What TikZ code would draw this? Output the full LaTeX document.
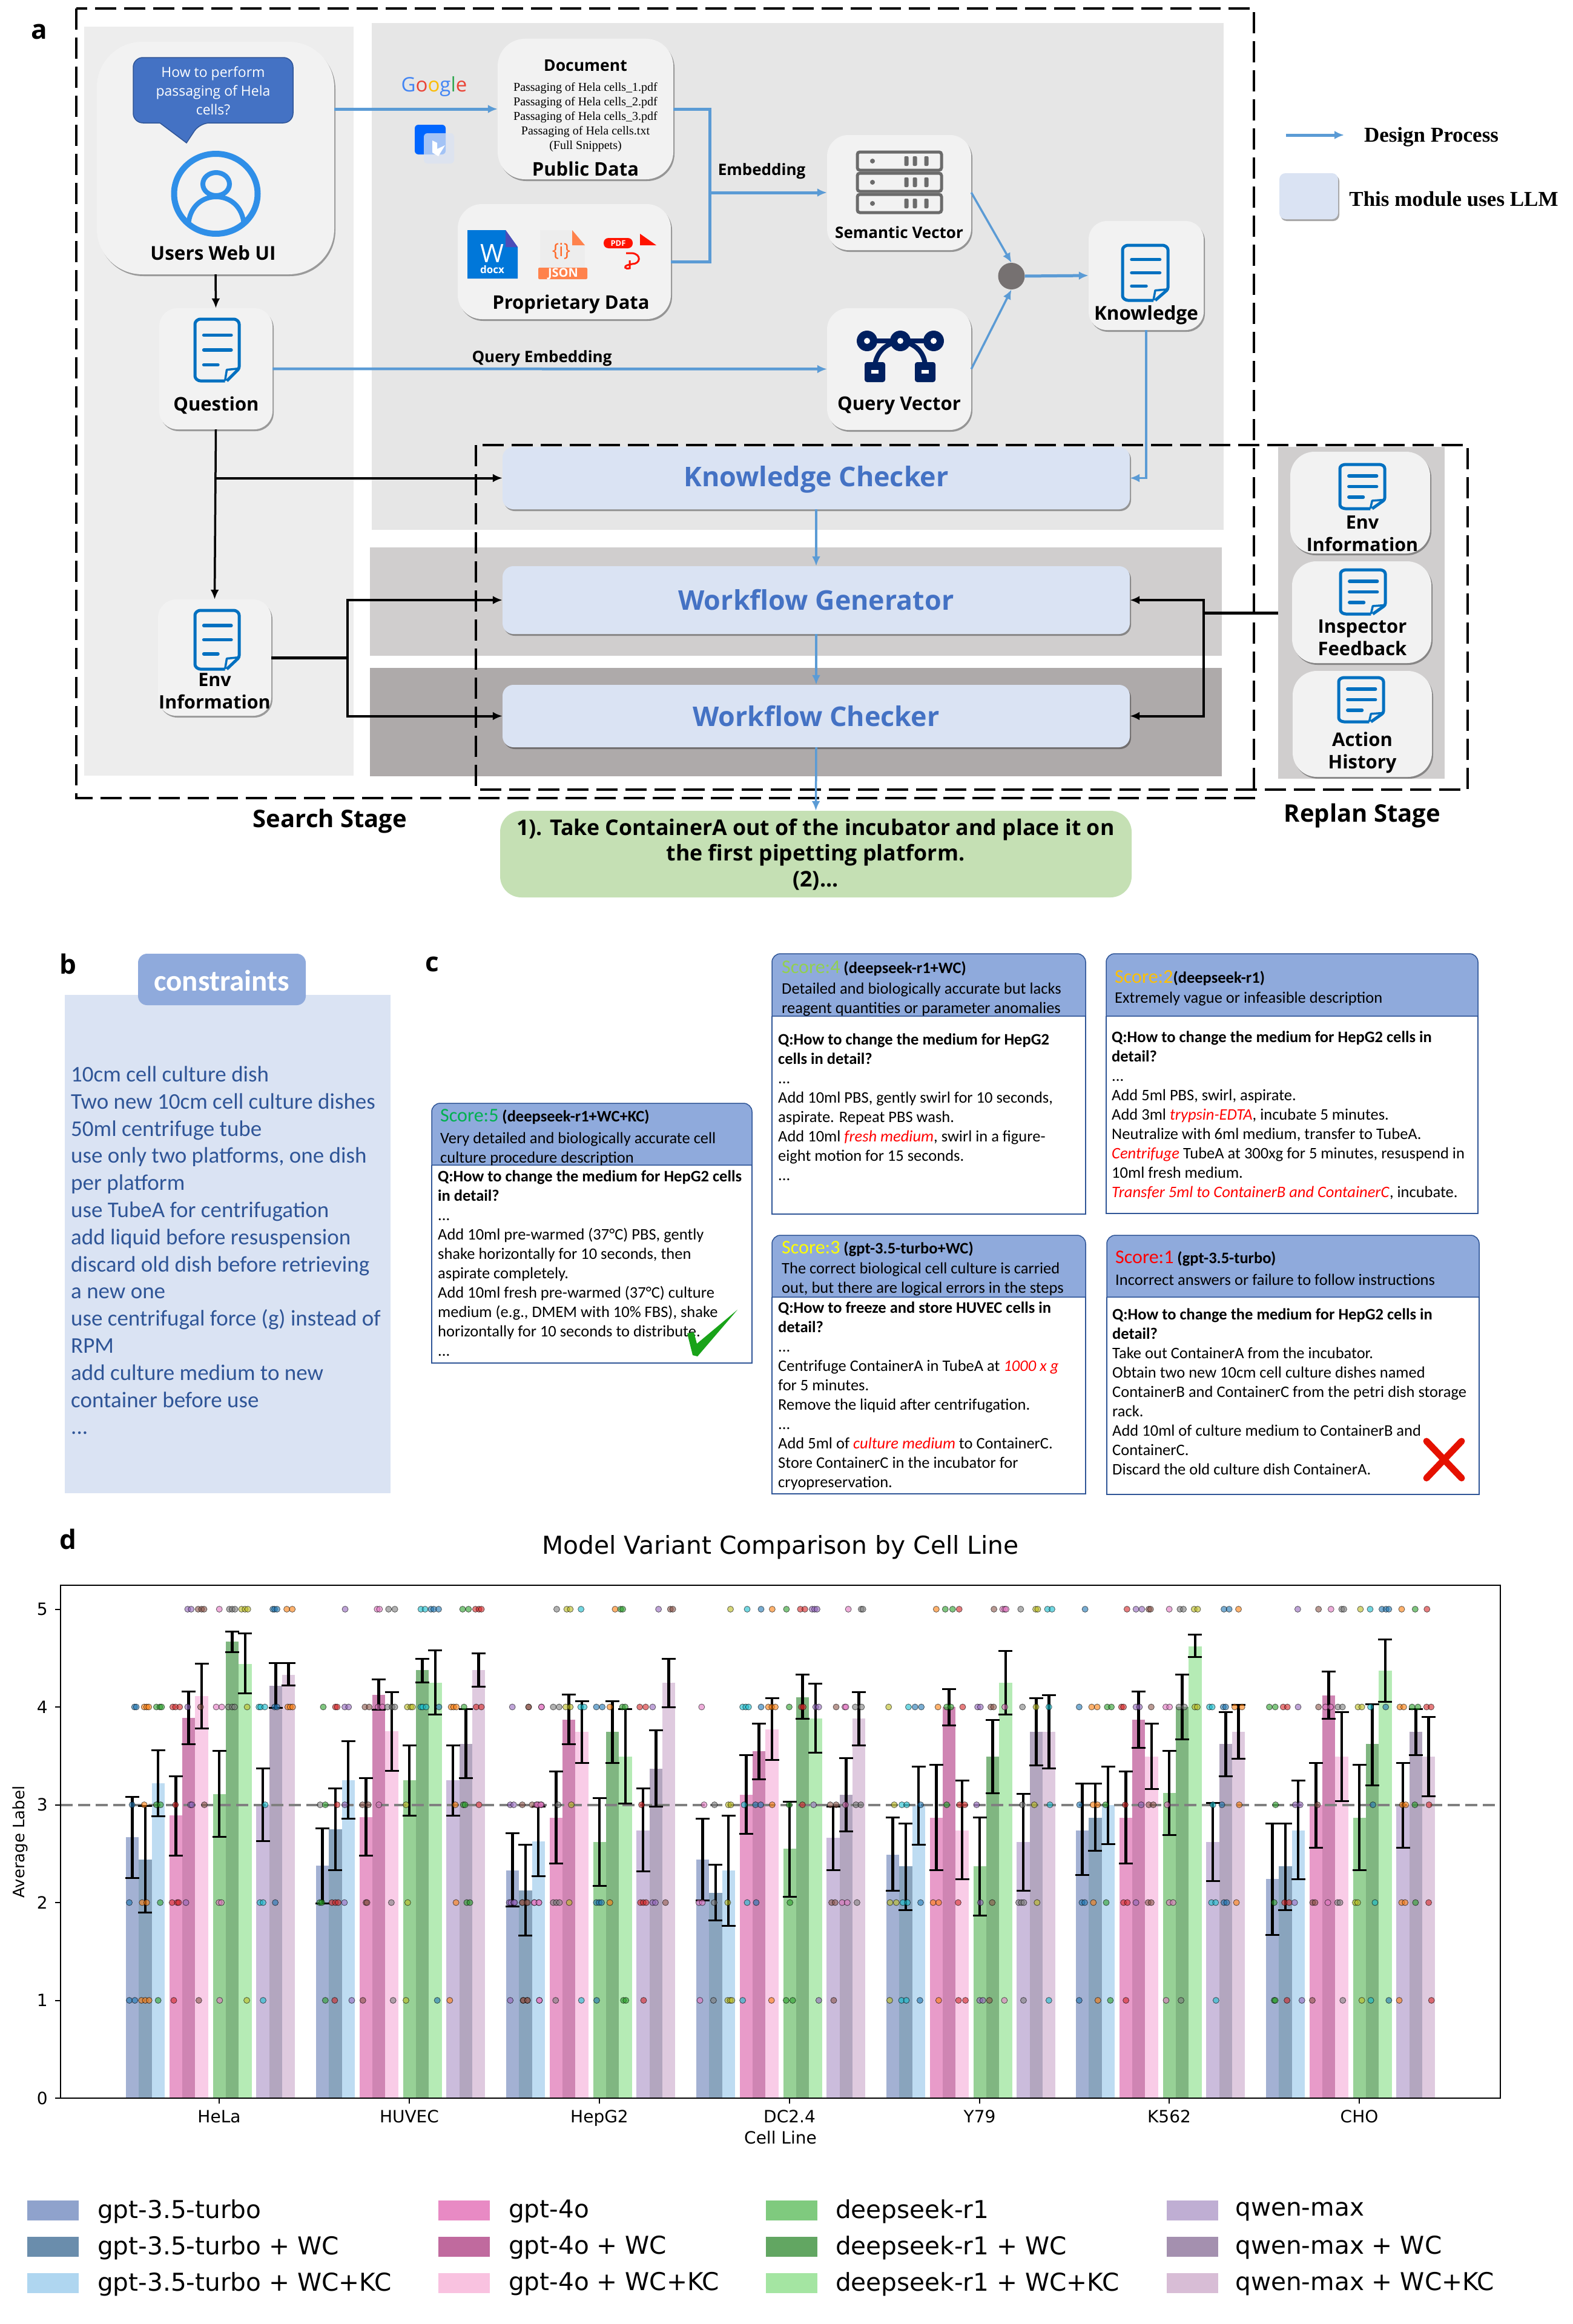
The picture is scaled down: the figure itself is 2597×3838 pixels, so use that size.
\documentclass[tikz,border=0pt]{standalone}
\usepackage{fontspec}
\usetikzlibrary{shadows,arrows.meta}
\newfontfamily\uifont{Open Sans}
\newfontfamily\calfont{Carlito}
\newfontfamily\plotfont{DejaVu Sans}
\newfontfamily\timesfont{Liberation Serif}
\definecolor{flowblue}{HTML}{5B9BD5}
\definecolor{docblue}{HTML}{0070C0}
\definecolor{userblue}{HTML}{2F8FE8}
\definecolor{boxgray}{HTML}{F2F2F2}
\definecolor{llmblue}{HTML}{DAE3F3}
\definecolor{titleblue}{HTML}{4472C4}
\definecolor{cardhead}{HTML}{8FAADC}
\definecolor{cardedge}{HTML}{2F5597}
\definecolor{navyicon}{HTML}{002060}
\definecolor{panelA}{HTML}{EDEDED}
\definecolor{panelB}{HTML}{E6E6E6}
\definecolor{panelC}{HTML}{D0CECE}
\definecolor{panelD}{HTML}{AEAAAA}
\definecolor{mixgray}{HTML}{767171}
\definecolor{resultgreen}{HTML}{C5E0B4}
\definecolor{bar0}{HTML}{A3B1D3}\definecolor{bar1}{HTML}{89A4BD}\definecolor{bar2}{HTML}{BEDCF2}
\definecolor{bar3}{HTML}{E89BC9}\definecolor{bar4}{HTML}{CF85B3}\definecolor{bar5}{HTML}{F9CCE7}
\definecolor{bar6}{HTML}{97D196}\definecolor{bar7}{HTML}{80B681}\definecolor{bar8}{HTML}{B5EBB5}
\definecolor{bar9}{HTML}{CBBCDC}\definecolor{bar10}{HTML}{B3A6BF}\definecolor{bar11}{HTML}{DFCADF}
\definecolor{key1}{HTML}{8FA2CC}\definecolor{key2}{HTML}{6A8DAC}\definecolor{key3}{HTML}{AFD6F0}
\definecolor{key4}{HTML}{E88AC4}\definecolor{key5}{HTML}{C06A9E}\definecolor{key6}{HTML}{F9C2E0}
\definecolor{key7}{HTML}{7FCA7E}\definecolor{key8}{HTML}{62A662}\definecolor{key9}{HTML}{A4E5A2}
\definecolor{key10}{HTML}{BFAED3}\definecolor{key11}{HTML}{A490AF}\definecolor{key12}{HTML}{D8BDD6}
\definecolor{tabb}{HTML}{1F77B4}\definecolor{tabo}{HTML}{FF7F0E}\definecolor{tabg}{HTML}{2CA02C}
\definecolor{tabr}{HTML}{D62728}\definecolor{tabp}{HTML}{9467BD}\definecolor{tabm}{HTML}{8C564B}
\definecolor{tabk}{HTML}{E377C2}\definecolor{taba}{HTML}{7F7F7F}\definecolor{taby}{HTML}{BCBD22}
\definecolor{tabc}{HTML}{17BECF}
\tikzset{
	softbox/.style={shape=rectangle, rounded corners=#1, fill=boxgray, inner sep=0pt, drop shadow={shadow xshift=2pt, shadow yshift=-3pt, opacity=0.35, fill=black}},
	llmbox/.style={shape=rectangle, rounded corners=18pt, fill=llmblue, inner sep=0pt, drop shadow={shadow xshift=2pt, shadow yshift=-3pt, opacity=0.35, fill=black}},
	panelbox/.style={shape=rectangle, inner sep=0pt},
	stageline/.style={draw=black, line width=3.5pt, dash pattern=on 35pt off 13pt},
	uitext/.style 2 args={inner sep=0pt, align=center, font=\uifont\bfseries\fontsize{#1}{#2}\selectfont},
	serifline/.style 2 args={inner sep=0pt, align=center, font=\timesfont\fontsize{#1}{#2}\selectfont},
	cardtext/.style={inner sep=0pt, anchor=west, align=left, font=\calfont\fontsize{26.5}{32}\selectfont},
	cardbody/.style={inner sep=0pt, anchor=north west, align=left, font=\calfont\fontsize{26.5}{32}\selectfont},
	plottext/.style={inner sep=0pt, font=\plotfont\fontsize{#1}{#1}\selectfont},
	flowarrow/.style={-{Latex[length=16pt,width=14pt]}, draw=flowblue, line width=#1},
	blackarrow/.style={-{Latex[length=16pt,width=14pt]}, draw=black, line width=#1},
	cardline/.style={draw=cardedge, line width=1.5pt},
	errbar/.style={draw=black, line width=4.5pt},
	errcap/.style={draw=black, line width=3pt},
	dotmark/.style={draw=black, draw opacity=0.6, line width=0.8pt, fill opacity=0.6}
}
\newcommand{\docicon}[4]{
	\begin{scope}[shift={(#1,#2)}, x=#3pt, y=-#4pt]
		\draw[docblue, line width=5pt, line join=round, rounded corners=3pt] (0.68,1) -- (0.08,1) -- (0,0.95) -- (0,0.05) -- (0.08,0) -- (0.92,0) -- (1,0.05) -- (1,0.8) -- (0.72,1);
		\draw[docblue, line width=3.5pt, line join=round] (1,0.8) -- (0.72,0.82) -- (0.68,1);
		\draw[docblue, line width=5.5pt, line cap=round] (0.2,0.26) -- (0.82,0.26) (0.2,0.5) -- (0.82,0.5) (0.2,0.74) -- (0.52,0.74);
	\end{scope}
}
\newcommand{\scorecard}[5]{
	\draw[cardline, fill=white] (#1,#3) -- (#1,#5) -- (#4,#5) -- (#4,#3);
	\draw[cardline, fill=cardhead] (#1,#3) [rounded corners=14pt] -- (#1,#2) -- (#4,#2) [sharp corners] -- (#4,#3) -- cycle;
}
\newcommand{\drawbars}[2]{
	\foreach \v/\hi/\lo [count=\n from 0] in {#2} {
		\pgfmathsetmacro\bx{#1-154+21.3*mod(\n,3)+71.8*floor(\n/3)}
		\fill[bar\n] (\bx,3465) rectangle ({\bx+21.3},{3465-161.5*\v});
	}
}
\newcommand{\drawerrs}[2]{
	\foreach \v/\hi/\lo [count=\n from 0] in {#2} {
		\pgfmathsetmacro\bx{#1-143.4+21.3*mod(\n,3)+71.8*floor(\n/3)}
		\draw[errbar] (\bx,{3465-161.5*\hi}) -- (\bx,{3465-161.5*\lo});
		\draw[errcap] ({\bx-11.5},{3465-161.5*\hi}) -- ({\bx+11.5},{3465-161.5*\hi});
		\draw[errcap] ({\bx-11.5},{3465-161.5*\lo}) -- ({\bx+11.5},{3465-161.5*\lo});
	}
}
\newcommand{\dotrow}[4]{
	\foreach \c/\x in {#4} {
		\draw[dotmark, fill=tab\c] ({#2+\x/#3},{3465-161.5*#1}) circle (5pt);
	}
}
\begin{document}
\begin{tikzpicture}[x=1pt, y=-1pt]
	\useasboundingbox (0,0) rectangle (2597,3838);
	%Stage panels:
	\path
		(361.5,662.5) node[panelbox, fill=panelA, minimum width=445pt, minimum height=1237pt] (searchpanel) {}
		(1317.5,456.5) node[panelbox, fill=panelB, minimum width=1407pt, minimum height=837pt] (ragpanel) {}
		(1314.5,993.5) node[panelbox, fill=panelC, minimum width=1407pt, minimum height=179pt] (genpanel) {}
		(1314.5,1192.5) node[panelbox, fill=panelD, minimum width=1407pt, minimum height=179pt] (checkpanel) {}
		(2248.5,1012) node[panelbox, fill=panelC, minimum width=275pt, minimum height=548pt] (replanpanel) {};
	%Stage frames:
	\draw[stageline] (126,14) rectangle (2071,1318);
	\draw[stageline] (786,735) rectangle (2424,1304);
	%Search stage boxes:
	\path
		(356,261) node[softbox=75pt, minimum width=392pt, minimum height=384pt] (users) {}
		(356.5,609) node[softbox=30pt, minimum width=187pt, minimum height=200pt] (question) {}
		(354.5,1086) node[softbox=30pt, minimum width=187pt, minimum height=192pt] (envinfo) {}
		(967,180) node[softbox=45pt, minimum width=290pt, minimum height=232pt] (document) {}
		(932,432) node[softbox=40pt, minimum width=352pt, minimum height=190pt] (proprietary) {}
		(1485,318) node[softbox=35pt, minimum width=238pt, minimum height=190pt] (semantic) {}
		(1485,609.5) node[softbox=35pt, minimum width=238pt, minimum height=201pt] (queryvec) {}
		(1893,455) node[softbox=30pt, minimum width=190pt, minimum height=180pt] (knowledge) {}
		(1670.5,456) node[shape=circle, fill=mixgray, minimum size=44pt, inner sep=0pt] (mixdot) {};
	%LLM modules:
	\path
		(1348,789.5) node[llmbox, minimum width=1036pt, minimum height=103pt] (kchecker) {}
		(1348,991) node[llmbox, minimum width=1036pt, minimum height=112pt] (wgenerator) {}
		(1348,1182.5) node[llmbox, minimum width=1036pt, minimum height=103pt] (wchecker) {}
		(1347.5,1410.5) node[shape=rectangle, rounded corners=35pt, fill=resultgreen, minimum width=1043pt, minimum height=143pt, inner sep=0pt] (result) {};
	%Replan boxes:
	\path
		(2246.5,830) node[softbox=40pt, minimum width=231pt, minimum height=168pt] (replanenv) {}
		(2249,1011) node[softbox=40pt, minimum width=230pt, minimum height=168pt] (inspector) {}
		(2250,1195.5) node[softbox=40pt, minimum width=230pt, minimum height=175pt] (history) {};
	%Box texts:
	\path
		(352,418) node[uitext={31.5}{36}] (userslabel) {Users Web UI}
		(357,669) node[uitext={31}{36}] (questionlabel) {Question}
		(354.5,1141.5) node[uitext={30.5}{37}] (envlabel) {Env\\Information}
		(967,108) node[uitext={26.5}{30}] (doctitle) {Document}
		(967,279) node[uitext={31}{36}] (publiclabel) {Public Data}
		(943,502) node[uitext={31}{36}] (proplabel) {Proprietary Data}
		(1485,384) node[uitext={26}{30}] (semlabel) {Semantic Vector}
		(1485,670) node[uitext={31}{36}] (querylabel) {Query Vector}
		(1893,520) node[uitext={31.5}{36}] (knowlabel) {Knowledge}
		(1258,283) node[uitext={26}{28}] (embedlabel) {Embedding}
		(895,592) node[uitext={26}{28}] (querembedlabel) {Query Embedding}
		(2250,881.5) node[uitext={30.5}{37}] (replanenvlabel) {Env\\Information}
		(2250,1053.5) node[uitext={31}{37}] (inspectlabel) {Inspector\\Feedback}
		(2250,1242.5) node[uitext={31}{37}] (historylabel) {Action\\History}
		(545,1356) node[uitext={40}{44}] (searchlabel) {Search Stage}
		(2250,1347) node[uitext={40}{44}] (replanlabel) {Replan Stage}
		(65,52) node[uitext={44}{50}] (labela) {a}
		(112,1592) node[uitext={44}{50}] (labelb) {b}
		(714,1592) node[uitext={44}{50}] (labelc) {c}
		(112,2542) node[uitext={44}{50}] (labeld) {d}
		(967,194) node[serifline={20}{24}] (snippets) {Passaging of Hela cells\_1.pdf\\Passaging of Hela cells\_2.pdf\\Passaging of Hela cells\_3.pdf\\Passaging of Hela cells.txt\\(Full Snippets)}
		(1348,792) node[uitext={44.8}{50}, text=titleblue] (kcheckerlabel) {Knowledge Checker}
		(1348,991) node[uitext={44.8}{50}, text=titleblue] (wgeneratorlabel) {Workflow Generator}
		(1348,1183) node[uitext={44.8}{50}, text=titleblue] (wcheckerlabel) {Workflow Checker}
		(1347,1411) node[uitext={35.7}{42.5}] (resultlabel) {1). Take ContainerA out of the incubator and place it on\\the first pipetting platform.\\(2)...}
		(2364,226) node[inner sep=0pt, font=\timesfont\bfseries\fontsize{35}{36}\selectfont] (designlabel) {Design Process}
		(2401,329) node[inner sep=0pt, font=\timesfont\bfseries\fontsize{35}{36}\selectfont] (modulelabel) {This module uses LLM}
		(717,143) node[inner sep=0pt, font=\uifont\fontsize{33}{40}\selectfont] (googlelabel) {\textcolor[HTML]{4285F4}{G}\textcolor[HTML]{EA4335}{o}\textcolor[HTML]{FBBC05}{o}\textcolor[HTML]{4285F4}{g}\textcolor[HTML]{34A853}{l}\textcolor[HTML]{EA4335}{e}};
	%Speech bubble and user icon:
	\draw[fill=titleblue, draw=cardedge, line width=1.5pt, rounded corners=16pt] (220,95) -- (484,95) -- (484,203) -- (330,203) [sharp corners] -- (308,236) -- (264,203) [rounded corners=16pt] -- (220,203) -- cycle;
	\path (352,150) node[inner sep=0pt, align=center, text=white, font=\uifont\fontsize{23}{31}\selectfont] (bubblelabel) {How to perform\\passaging of Hela\\cells?};
	\draw[userblue, line width=10pt] (356.5,320) ellipse (69pt and 66pt);
	\draw[userblue, line width=8pt] (357,304) ellipse (22pt and 19pt);
	\draw[userblue, line width=8pt] (311,372) .. controls (313,340) and (335,325) .. (357,325) .. controls (379,325) and (401,340) .. (403,372);
	%Bing icon:
	\fill[blue!60!cyan, rounded corners=6pt] (685,206) rectangle (736,255);
	\fill[llmblue, fill opacity=0.75, rounded corners=6pt] (700,220) rectangle (750,270);
	\fill[white] (714,232) -- (722,236) -- (722,246) -- (735,240) -- (724,258) -- (714,252) -- cycle;
	%File icons:
	\fill[blue!45!cyan!85!black] (772,380) -- (835,380) -- (855,408) -- (855,460) -- (772,460) -- cycle;
	\fill[blue!60!black!70] (835,380) -- (855,408) -- (835,408) -- cycle;
	\path
		(813,419) node[inner sep=0pt, text=white, font=\uifont\fontsize{42}{44}\selectfont] (wordletter) {W}
		(813,445) node[inner sep=0pt, text=white, font=\uifont\bfseries\fontsize{17}{20}\selectfont] (wordext) {docx};
	\fill[black!7] (892,380) -- (945,380) -- (966,405) -- (966,445) -- (892,445) -- cycle;
	\fill[orange!60!red!70] (945,380) -- (966,405) -- (945,405) -- cycle;
	\fill[orange!60!red!70, rounded corners=2pt] (889,442) rectangle (970,461);
	\path
		(927,415) node[inner sep=0pt, text=orange!60!red!85, font=\uifont\fontsize{30}{32}\selectfont] (jsonbrace) {\{i\}}
		(930,452) node[inner sep=0pt, text=white, font=\uifont\bfseries\fontsize{20}{22}\selectfont] (jsontag) {JSON};
	\fill[black!5] (1005,386) rectangle (1084,460);
	\fill[red!85!orange] (1057,386) -- (1084,405) -- (1057,405) -- cycle;
	\fill[red!85!orange, rounded corners=8pt] (997,393) rectangle (1045,410);
	\path (1021,401.5) node[inner sep=0pt, text=white, font=\uifont\bfseries\fontsize{13}{15}\selectfont] (pdftag) {PDF};
	\draw[red!85!orange, line width=3pt] (1034,418) -- (1044,418) .. controls (1060,420) and (1058,436) .. (1044,436) -- (1036,438) .. controls (1030,440) and (1032,445) .. (1040,443) -- (1040,430);
	%Server icon:
	\foreach \sy/\i in {251/1,286/2,321/3} {
		\draw[black!58, line width=5pt, rounded corners=4pt] (1416,\sy) rectangle (1555,\sy+30);
		\fill[black!58] (1441,\sy+15) circle (4pt);
		\foreach \sx in {1497,1511,1530} {
			\fill[black!58, rounded corners=2pt] (\sx-3.5,\sy+7) rectangle (\sx+3.5,\sy+23);
		}
	}
	%Vector icon:
	\draw[navyicon, line width=8pt] (1432,563) -- (1542,563);
	\draw[navyicon, line width=8pt] (1487,563) .. controls (1458,568) and (1448,585) .. (1445,602);
	\draw[navyicon, line width=8pt] (1487,563) .. controls (1516,568) and (1526,585) .. (1528,602);
	\foreach \cx in {1432,1487,1542} {
		\fill[navyicon] (\cx,563) circle (17pt);
		\fill[white] (\cx,563) circle (5pt);
	}
	\foreach \cx in {1445,1528} {
		\fill[navyicon, rounded corners=4pt] (\cx-17,598) rectangle (\cx+17,631);
		\fill[white] (\cx-6,611) rectangle (\cx+6,617);
	}
	%Document icons:
	\docicon{322}{527}{73}{102}
	\docicon{322}{1008}{73}{97}
	\docicon{1854}{405}{75}{91}
	\docicon{2213}{767}{74}{73}
	\docicon{2214}{941}{74}{73}
	\docicon{2211}{1119}{74}{73}
	%Blue flow arrows:
	\coordinate (embedjoin) at (1172,318);
	\draw[flowarrow=5pt] (document.west -| users.east) -- (document.west);
	\draw[draw=flowblue, line width=5pt] (document.east) -| (embedjoin);
	\draw[draw=flowblue, line width=5pt] (proprietary.east) -| (embedjoin);
	\draw[flowarrow=5pt] (embedjoin) -- (semantic.west);
	\draw[flowarrow=4.5pt] (question.east) -- (queryvec.west);
	\draw[flowarrow=3.5pt] (semantic.east) -- (mixdot.north);
	\draw[flowarrow=3.5pt] (queryvec.east) -- (mixdot.south);
	\draw[flowarrow=5pt] (mixdot.east) -- (knowledge.west);
	\draw[flowarrow=3.5pt] (knowledge.south) |- (kchecker.east);
	\draw[flowarrow=3.5pt] (kchecker.south) -- (wgenerator.north);
	\draw[flowarrow=3.5pt] (wgenerator.south) -- (wchecker.north);
	\draw[flowarrow=3.5pt] (wchecker.south) -- (result.north);
	%Black arrows:
	\coordinate (envsplit) at (574,1086);
	\coordinate (replansplit) at (1988,1012);
	\draw[blackarrow=3.5pt] (users.south) -- (question.north);
	\draw[blackarrow=3.5pt] (question.south) -- (envinfo.north);
	\draw[blackarrow=4pt] (kchecker.west -| question.south) -- (kchecker.west);
	\draw[black, line width=5pt] (envinfo.east) -- (envsplit);
	\draw[blackarrow=4pt] (envsplit) |- (wgenerator.west);
	\draw[blackarrow=4pt] (envsplit) |- (wchecker.west);
	\draw[black, line width=5pt] (replanpanel.west) -- (replansplit);
	\draw[blackarrow=4pt] (replansplit) |- (wgenerator.east);
	\draw[blackarrow=4pt] (replansplit) |- (wchecker.east);
	%Legend of panel a:
	\coordinate (keystart) at (2124,223);
	\coordinate (keyend) at (2220,223);
	\draw[flowarrow=5pt] (keystart) -- (keyend);
	\path (2161.5,324) node[llmbox, rounded corners=10pt, minimum width=97pt, minimum height=76pt] (llmkey) {};
	%Constraints panel:
	\path
		(376,2054.5) node[panelbox, fill=llmblue, minimum width=538pt, minimum height=823pt] (constraintpanel) {}
		(366.5,1617.5) node[shape=rectangle, rounded corners=15pt, fill=cardhead, inner sep=0pt, minimum width=277pt, minimum height=85pt] (constrainthead) {}
		(366,1619) node[inner sep=0pt, text=white, font=\calfont\bfseries\fontsize{49}{50}\selectfont] (constrainttitle) {constraints}
		(117,2065) node[inner sep=0pt, anchor=west, align=left, text=cardedge, font=\calfont\fontsize{37}{44.8}\selectfont] (constraintlist) {10cm cell culture dish\\Two new 10cm cell culture dishes\\50ml centrifuge tube\\use only two platforms, one dish\\per platform\\use TubeA for centrifugation\\add liquid before resuspension\\discard old dish before retrieving\\a new one\\use centrifugal force (g) instead of\\RPM\\add culture medium to new\\container before use\\...};
	%Score cards:
	\scorecard{713}{1822}{1924}{1242}{2251}
	\scorecard{1275}{1575}{1678}{1793}{2005}
	\scorecard{1827}{1575}{1678}{2441}{2004}
	\scorecard{1275}{2040}{2142}{1793}{2467}
	\scorecard{1828}{2040}{2142}{2443}{2468}
	\path
		(727,1844) node[cardtext] (scorefive) {{\fontsize{32}{32}\selectfont\textcolor[HTML]{00B050}{Score:5}} \textbf{(deepseek-r1+WC+KC)}}
		(727,1897) node[cardtext] (descfive) {Very detailed and biologically accurate cell\\culture procedure description}
		(723,1933) node[cardbody] (bodyfive) {\textbf{Q:How to change the medium for HepG2 cells}\\\textbf{in detail?}\\...\\Add 10ml pre-warmed (37°C) PBS, gently\\shake horizontally for 10 seconds, then\\aspirate completely.\\Add 10ml fresh pre-warmed (37°C) culture\\medium (e.g., DMEM with 10\% FBS), shake\\horizontally for 10 seconds to distribute.\\...}
		(1291,1599) node[cardtext] (scorefour) {{\fontsize{32}{32}\selectfont\textcolor[HTML]{92D050}{Score:4}} \textbf{(deepseek-r1+WC)}}
		(1291,1651) node[cardtext] (descfour) {Detailed and biologically accurate but lacks\\reagent quantities or parameter anomalies}
		(1285,1707) node[cardbody] (bodyfour) {\textbf{Q:How to change the medium for HepG2}\\\textbf{cells in detail?}\\...\\Add 10ml PBS, gently swirl for 10 seconds,\\aspirate. Repeat PBS wash.\\Add 10ml \textcolor{red}{\textit{fresh medium}}, swirl in a figure-\\eight motion for 15 seconds.\\...}
		(1841,1615) node[cardtext] (scoretwo) {{\fontsize{32}{32}\selectfont\textcolor[HTML]{FFC000}{Score:2}}\textbf{(deepseek-r1)}}
		(1841,1650) node[cardtext] (desctwo) {Extremely vague or infeasible description}
		(1836,1703) node[cardbody] (bodytwo) {\textbf{Q:How to change the medium for HepG2 cells in}\\\textbf{detail?}\\...\\Add 5ml PBS, swirl, aspirate.\\Add 3ml \textcolor{red}{\textit{trypsin-EDTA}}, incubate 5 minutes.\\Neutralize with 6ml medium, transfer to TubeA.\\\textcolor{red}{\textit{Centrifuge}} TubeA at 300xg for 5 minutes, resuspend in\\10ml fresh medium.\\\textcolor{red}{\textit{Transfer 5ml to ContainerB and ContainerC}}, incubate.}
		(1291,2062) node[cardtext] (scorethree) {{\fontsize{32}{32}\selectfont\textcolor[HTML]{FFFF00}{Score:3}} \textbf{(gpt-3.5-turbo+WC)}}
		(1291,2113) node[cardtext] (descthree) {The correct biological cell culture is carried\\out, but there are logical errors in the steps}
		(1285,2150) node[cardbody] (bodythree) {\textbf{Q:How to freeze and store HUVEC cells in}\\\textbf{detail?}\\...\\Centrifuge ContainerA in TubeA at \textcolor{red}{\textit{1000 x g}}\\for 5 minutes.\\Remove the liquid after centrifugation.\\...\\Add 5ml of \textcolor{red}{\textit{culture medium}} to ContainerC.\\Store ContainerC in the incubator for\\cryopreservation.}
		(1842,2078) node[cardtext] (scoreone) {{\fontsize{32}{32}\selectfont\textcolor[HTML]{FF0000}{Score:1}} \textbf{(gpt-3.5-turbo)}}
		(1842,2113) node[cardtext] (descone) {Incorrect answers or failure to follow instructions}
		(1837,2161) node[cardbody] (bodyone) {\textbf{Q:How to change the medium for HepG2 cells in}\\\textbf{detail?}\\Take out ContainerA from the incubator.\\Obtain two new 10cm cell culture dishes named\\ContainerB and ContainerC from the petri dish storage\\rack.\\Add 10ml of culture medium to ContainerB and\\ContainerC.\\Discard the old culture dish ContainerA.};
	%Check and cross marks:
	\fill[green!60!black!90] (1135,2202) -- (1146,2200) -- (1151,2219) -- (1218,2163) -- (1152,2240) -- (1144,2238) -- cycle;
	\draw[red!85!orange!90!black, line width=11pt, line cap=round] (2356,2380) -- (2414,2441) (2414,2380) -- (2356,2441);
	%Bars:
	\drawbars{362}{2.67/3.08/2.25,2.44/2.99/1.90,3.22/3.56/2.88,2.89/3.29/2.48,3.89/4.16/3.62,4.11/4.44/3.78,3.11/3.55/2.67,4.67/4.77/4.56,4.44/4.75/4.14,3.0/3.37/2.63,4.22/4.45/3.99,4.33/4.45/4.22}
	\drawbars{676}{2.375/2.76/1.99,2.75/3.17/2.33,3.25/3.65/2.86,2.875/3.27/2.48,4.125/4.28/3.97,3.75/4.15/3.35,3.25/3.61/2.89,4.375/4.49/4.25,4.25/4.58/3.92,3.25/3.61/2.89,3.625/3.98/3.27,4.375/4.55/4.21}
	\drawbars{990}{2.33/2.71/1.96,2.125/2.59/1.66,2.625/2.98/2.27,2.87/3.34/2.40,3.87/4.13/3.62,3.745/4.06/3.43,2.62/3.07/2.17,3.745/4.06/3.43,3.49/3.98/3.01,2.74/3.17/2.32,3.37/3.76/2.98,4.25/4.49/4.0}
	\drawbars{1304}{2.44/2.86/2.02,2.1/2.39/1.82,2.33/2.89/1.76,3.10/3.51/2.70,3.55/3.83/3.26,3.77/4.09/3.46,2.55/3.03/2.06,4.10/4.33/3.88,3.88/4.24/3.53,2.66/2.98/2.33,3.10/3.48/2.73,3.88/4.15/3.61}
	\drawbars{1618}{2.49/2.87/2.12,2.37/2.81/1.92,3.0/3.39/2.59,2.87/3.41/2.33,4.0/4.18/3.81,2.74/3.25/2.24,2.37/2.87/1.87,3.49/3.87/3.12,4.25/4.57/3.92,2.62/3.11/2.12,3.745/4.09/3.40,3.745/4.12/3.37}
	\drawbars{1931}{2.74/3.22/2.28,2.87/3.22/2.53,3.0/3.39/2.6,2.87/3.34/2.40,3.87/4.16/3.58,3.49/3.83/3.16,3.12/3.55/2.69,4.0/4.33/3.67,4.62/4.74/4.51,2.62/3.02/2.22,3.62/3.95/3.29,3.745/4.02/3.47}
	\drawbars{2245}{2.24/2.81/1.67,2.37/2.81/1.92,2.74/3.25/2.24,3.0/3.43/2.56,4.12/4.36/3.88,3.49/3.95/3.04,2.87/3.41/2.33,3.62/4.03/3.2,4.37/4.69/4.05,3.0/3.43/2.56,3.745/3.98/3.51,3.49/3.9/3.09}
	%Reference line:
	\draw[draw=gray, line width=4pt, dash pattern=on 20pt off 9pt] (100,2980.5) -- (2478,2980.5);
	%Error bars:
	\drawerrs{362}{2.67/3.08/2.25,2.44/2.99/1.90,3.22/3.56/2.88,2.89/3.29/2.48,3.89/4.16/3.62,4.11/4.44/3.78,3.11/3.55/2.67,4.67/4.77/4.56,4.44/4.75/4.14,3.0/3.37/2.63,4.22/4.45/3.99,4.33/4.45/4.22}
	\drawerrs{676}{2.375/2.76/1.99,2.75/3.17/2.33,3.25/3.65/2.86,2.875/3.27/2.48,4.125/4.28/3.97,3.75/4.15/3.35,3.25/3.61/2.89,4.375/4.49/4.25,4.25/4.58/3.92,3.25/3.61/2.89,3.625/3.98/3.27,4.375/4.55/4.21}
	\drawerrs{990}{2.33/2.71/1.96,2.125/2.59/1.66,2.625/2.98/2.27,2.87/3.34/2.40,3.87/4.13/3.62,3.745/4.06/3.43,2.62/3.07/2.17,3.745/4.06/3.43,3.49/3.98/3.01,2.74/3.17/2.32,3.37/3.76/2.98,4.25/4.49/4.0}
	\drawerrs{1304}{2.44/2.86/2.02,2.1/2.39/1.82,2.33/2.89/1.76,3.10/3.51/2.70,3.55/3.83/3.26,3.77/4.09/3.46,2.55/3.03/2.06,4.10/4.33/3.88,3.88/4.24/3.53,2.66/2.98/2.33,3.10/3.48/2.73,3.88/4.15/3.61}
	\drawerrs{1618}{2.49/2.87/2.12,2.37/2.81/1.92,3.0/3.39/2.59,2.87/3.41/2.33,4.0/4.18/3.81,2.74/3.25/2.24,2.37/2.87/1.87,3.49/3.87/3.12,4.25/4.57/3.92,2.62/3.11/2.12,3.745/4.09/3.40,3.745/4.12/3.37}
	\drawerrs{1931}{2.74/3.22/2.28,2.87/3.22/2.53,3.0/3.39/2.6,2.87/3.34/2.40,3.87/4.16/3.58,3.49/3.83/3.16,3.12/3.55/2.69,4.0/4.33/3.67,4.62/4.74/4.51,2.62/3.02/2.22,3.62/3.95/3.29,3.745/4.02/3.47}
	\drawerrs{2245}{2.24/2.81/1.67,2.37/2.81/1.92,2.74/3.25/2.24,3.0/3.43/2.56,4.12/4.36/3.88,3.49/3.95/3.04,2.87/3.41/2.33,3.62/4.03/3.2,4.37/4.69/4.05,3.0/3.43/2.56,3.745/3.98/3.51,3.49/3.9/3.09}
	%Scatter rows, left part:
	\dotrow{5}{0}{1.742}{p/540,p/550,m/570,m/580,m/587,k/631,a/660,a/668,a/676,y/695,y/705,y/713,b/785,b/790,b/797,o/825,o/841,p/993,k/1085,k/1092,a/1118,a/1136,c/1211,c/1223,b/1240,b/1248,b/1262,g/1331,g/1348,r/1368,r/1378,r/1385}
	\dotrow{4}{0}{1.742}{b/387,b/392,o/415,o/422,o/428,g/450,g/460,g/465,r/497,r/505,r/517,p/540,m/577,k/622,k/638,a/657,a/668,a/675,y/711,c/745,c/750,c/762,b/790,b/797,o/828,o/835,o/842,g/930,r/965,r/970,p/992,p/1003,m/1050,m/1062,k/1088,k/1100,a/1115,a/1128,a/1136,y/1172,y/1182,y/1187,c/1211,c/1216,c/1226,b/1263,o/1298,o/1305,o/1313,g/1335,r/1370,r/1385,p/1474,m/1521,k/1558}
	\dotrow{3}{0}{1.742}{b/380,o/415,g/450,g/462,r/505,p/548,p/552,m/588,c/763,a/921,g/936,r/970,p/992,m/1043,m/1060,k/1090,y/1168,o/1310,g/1333,g/1338,r/1378,p/1468,p/1478,m/1531,k/1543,k/1550,k/1558}
	\dotrow{2}{0}{1.742}{b/372,o/409,o/422,g/461,r/495,r/510,r/514,p/535,k/630,k/637,c/748,c/757,b/792,g/920,g/926,r/955,r/965,r/973,p/991,m/1053,m/1056,a/1126,y/1173,o/1312,g/1343,g/1352,p/1465,p/1470,p/1478,m/1503,m/1515,k/1537,k/1550}
	\dotrow{1}{0}{1.742}{b/372,b/388,o/407,o/418,o/429,g/455,r/500,m/572,k/632,y/710,c/757,g/936,r/963,p/1012,m/1044,a/1131,y/1168,b/1258,o/1294,p/1468,m/1505,m/1517,k/1552}
	%Scatter rows, middle part:
	\dotrow{5}{850}{1.742}{a/121,y/150,y/160,c/191,o/289,g/305,g/311,p/414,m/448,m/455,y/621,c/669,b/709,o/741,g/782,r/822,r/835,p/856,p/863,p/870,k/960,a/997,a/1002,o/1213,g/1239,g/1260,r/1279,m/1379,k/1404,k/1410,k/1414,a/1456,y/1499,y/1505,c/1533,c/1546}
	\dotrow{4}{850}{1.742}{m/40,k/77,a/111,a/128,y/147,y/160,c/190,c/200,b/235,b/252,o/274,g/310,g/318,r/360,r/377,p/397,k/538,c/656,c/665,c/673,b/709,o/730,o/740,o/750,g/790,r/825,r/830,p/866,p/875,m/925,k/950,k/953,a/980,a/998,y/1076,c/1133,b/1152,b/1170,o/1218,g/1243,g/1255,r/1289,p/1332,p/1340,m/1370,m/1378,k/1410,a/1461,y/1500,c/1537}
	\dotrow{3}{850}{1.742}{m/22,k/65,k/75,a/125,y/163,r/365,k/545,a/575,y/615,y/622,c/660,b/693,b/708,o/741,g/790,r/828,p/860,m/908,m/925,k/952,a/982,a/996,y/1092,c/1114,c/1128,b/1168,g/1243,r/1280,r/1295,p/1329,a/1461,y/1495,c/1540}
	\dotrow{2}{850}{1.742}{p/0,m/22,m/37,k/57,k/70,a/111,a/120,a/129,y/157,b/235,b/243,b/250,o/274,r/362,r/370,r/378,p/397,p/405,m/434,k/530,k/540,a/574,y/613,c/669,b/695,g/792,m/912,m/922,k/942,k/957,a/985,y/1080,y/1098,c/1117,c/1130,b/1168,o/1204,o/1220,r/1276,p/1340,m/1374,a/1450,a/1458,a/1465,y/1503}
	\dotrow{1}{850}{1.742}{m/25,m/37,k/71,a/118,c/192,b/236,g/313,g/320,r/371,k/533,a/572,y/613,y/620,y/625,c/656,o/739,g/781,g/800,p/875,m/918,y/1079,c/1113,c/1127,b/1166,o/1220,r/1277,r/1297,p/1338,p/1347,m/1366,k/1409,a/1464,c/1537}
	%Scatter rows, right part:
	\dotrow{5}{1700}{1.748}{b/161,r/282,p/308,p/325,m/345,m/350,k/404,a/435,a/445,y/476,y/486,b/562,b/577,o/604,p/775,m/835,k/871,a/902,a/908,y/956,c/984,b/1018,b/1030,b/1038,o/1075,g/1114,r/1148}
	\dotrow{4}{1700}{1.748}{b/144,o/180,o/196,g/225,g/237,r/266,r/272,p/308,p/318,m/352,k/394,k/405,a/432,a/448,y/478,y/485,c/520,c/528,b/560,b/567,o/593,o/614,g/693,g/710,r/733,r/745,p/776,m/835,k/855,k/870,a/891,a/904,y/949,y/960,c/985,b/1029,o/1070,o/1081,g/1105,g/1122,r/1147,r/1160}
	\dotrow{3}{1700}{1.748}{b/145,o/184,o/197,g/220,r/277,p/323,m/345,m/358,k/398,c/530,b/556,o/606,g/711,p/768,p/782,m/832,b/992,o/1077,o/1087,g/1113,r/1154}
	\dotrow{2}{1700}{1.748}{b/152,b/160,o/185,g/222,r/272,r/283,p/308,m/343,m/352,k/404,k/415,c/526,c/538,b/562,b/570,o/598,g/707,r/737,r/750,p/766,m/818,m/825,k/862,a/890,a/897,y/941,y/948,c/998,o/1075,o/1085,g/1115,r/1153}
	\dotrow{1}{1700}{1.748}{b/144,o/198,g/234,r/279,k/395,a/438,c/539,g/707,g/710,r/744,p/787,m/817,a/905,y/960,c/986,b/1038,o/1068,r/1161}
	%Axes:
	\draw[black, line width=2.5pt] (100,2618) rectangle (2478,3465);
	\foreach \v in {0,1,2,3,4,5} {
		\draw[black, line width=2pt] (91,{3465-161.5*\v}) -- (100,{3465-161.5*\v});
		\path (79,{3465-161.5*\v}) node[plottext=28, anchor=east] (ytick\v) {\v};
	}
	\foreach \cell/\cx [count=\i] in {HeLa/362,HUVEC/676,HepG2/990,DC2.4/1304,Y79/1618,K562/1931,CHO/2245} {
		\draw[black, line width=2pt] (\cx,3465) -- (\cx,3474);
		\path (\cx,3495) node[plottext=28, anchor=base, yshift=-10pt] (xtick\i) {\cell};
	}
	\path
		(1289,2555) node[plottext=40.8] (plottitle) {Model Variant Comparison by Cell Line}
		(1289,3530) node[plottext=28] (xlabel) {Cell Line}
		(33,3042) node[plottext=26, rotate=90] (ylabel) {Average Label};
	%Plot legend:
	\foreach \sx/\tx/\row/\lab [count=\i] in {87/161/3652/gpt-3.5-turbo,87/161/3712/gpt-3.5-turbo + WC,87/161/3772/gpt-3.5-turbo + WC+KC,766/840/3652/gpt-4o,766/840/3712/gpt-4o + WC,766/840/3772/gpt-4o + WC+KC,1307.5/1380/3652/deepseek-r1,1307.5/1380/3712/deepseek-r1 + WC,1307.5/1380/3772/deepseek-r1 + WC+KC,1969/2040/3652/qwen-max,1969/2040/3712/qwen-max + WC,1969/2040/3772/qwen-max + WC+KC} {
		\path
			(\sx,\row-2) node[shape=rectangle, fill=key\i, inner sep=0pt, minimum width=85pt, minimum height=33pt] (swatch\i) {}
			(\tx,\row) node[plottext=40.6, anchor=west] (keylabel\i) {\lab};
	}
\end{tikzpicture}
\end{document}
